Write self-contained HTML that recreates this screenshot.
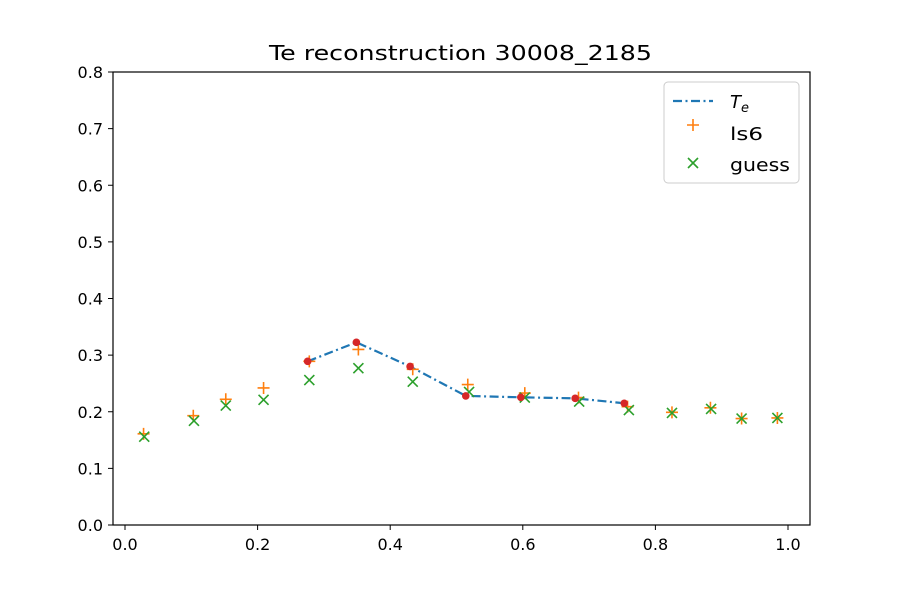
<!DOCTYPE html>
<html><head><meta charset="utf-8"><style>
html,body{margin:0;padding:0;background:#fff;}
svg text{font-family:"DejaVu Sans","Liberation Sans",sans-serif;fill:#000;}
</style></head><body>
<svg id="chart" width="900" height="600" xmlns="http://www.w3.org/2000/svg">
<rect width="900" height="600" fill="#fff"/>
<text x="269" y="60" font-size="20" textLength="383" lengthAdjust="spacingAndGlyphs">Te reconstruction 30008_2185</text>
<g id="axes"></g>
<g id="marks"></g>
<rect x="113" y="72" width="697" height="453" fill="none" stroke="#000" stroke-width="1.2"/>
<g>
<rect x="664" y="82" width="135" height="101" rx="4" fill="#fff" fill-opacity="0.8" stroke="#ccc"/>
<g>
<line x1="673" y1="101" x2="713" y2="101" stroke="#1f77b4" stroke-width="2.2" stroke-dasharray="9,3.5,2,3.5"/>
<text x="730" y="108" font-size="18" font-style="italic">T<tspan font-size="13" dy="4">e</tspan></text></g>
<g>
<path d="M687 125h12M693 119v12" stroke="#ff7f0e" stroke-width="1.6"/>
<text x="730" y="140" font-size="18" textLength="33" lengthAdjust="spacingAndGlyphs">ls6</text></g>
<g>
<path d="M688 158l10 10M698 158l-10 10" stroke="#2ca02c" stroke-width="1.6"/>
<text x="730" y="171" font-size="18" textLength="60" lengthAdjust="spacingAndGlyphs">guess</text></g>
</g>
</svg>
<script>
const xTicks=[0.0,0.2,0.4,0.6,0.8,1.0];
const yTicks=[0.0,0.1,0.2,0.3,0.4,0.5,0.6,0.7,0.8];
const ls6X=[0.028,0.103,0.152,0.209,0.278,0.352,0.434,0.517,0.603,0.684,0.758,0.825,0.883,0.930,0.984];
const ls6Y=[0.161,0.193,0.222,0.242,0.289,0.310,0.275,0.248,0.233,0.225,0.209,0.199,0.207,0.188,0.189];
const guessX=[0.029,0.104,0.152,0.209,0.278,0.352,0.434,0.519,0.603,0.685,0.760,0.825,0.884,0.930,0.984];
const guessY=[0.156,0.184,0.211,0.221,0.256,0.277,0.253,0.235,0.225,0.218,0.203,0.198,0.205,0.188,0.189];
const teX=[0.2755,0.349,0.430,0.514,0.597,0.679,0.753];
const teY=[0.289,0.3226,0.280,0.228,0.2255,0.2237,0.215];
const NS='http://www.w3.org/2000/svg';
const sx=v=>125+v*663, sy=v=>525-v*566.25;
function mk(tag,attrs,parent){const e=document.createElementNS(NS,tag);for(const k in attrs)e.setAttribute(k,attrs[k]);parent.appendChild(e);return e;}
const ax=document.getElementById('axes'), mg=document.getElementById('marks');
xTicks.forEach(t=>{const x=sx(t);
 const l=mk('line',{x1:x,x2:x,y1:525,y2:530,stroke:'#000','stroke-width':1},ax);
 
 
 const tx=mk('text',{x:x,y:550,'font-size':16,'text-anchor':'middle'},ax);tx.textContent=t.toFixed(1);
 
 });
yTicks.forEach(t=>{const y=sy(t);
 const l=mk('line',{x1:108,x2:113,y1:y,y2:y,stroke:'#000','stroke-width':1},ax);
 
 
 const tx=mk('text',{x:103,y:y+6,'font-size':16,'text-anchor':'end'},ax);tx.textContent=t.toFixed(1);
 
 });
const pl=mk('polyline',{points:teX.map((v,i)=>sx(v)+','+sy(teY[i])).join(' '),fill:'none',stroke:'#1f77b4','stroke-width':2.2,'stroke-dasharray':'9,3.5,2,3.5'},mg);


ls6X.forEach((v,i)=>{const x=sx(v),y=sy(ls6Y[i]);
 const p=mk('path',{d:`M${x-6} ${y}h12M${x} ${y-6}v12`,stroke:'#ff7f0e','stroke-width':1.6},mg);
 
 });
guessX.forEach((v,i)=>{const x=sx(v),y=sy(guessY[i]);
 const p=mk('path',{d:`M${x-5} ${y-5}l10 10M${x+5} ${y-5}l-10 10`,stroke:'#2ca02c','stroke-width':1.6},mg);
 
 });
teX.forEach((v,i)=>{
 const c=mk('circle',{cx:sx(v),cy:sy(teY[i]),r:3.8,fill:'#d62728'},mg);
 
 });
</script>
</body></html>
